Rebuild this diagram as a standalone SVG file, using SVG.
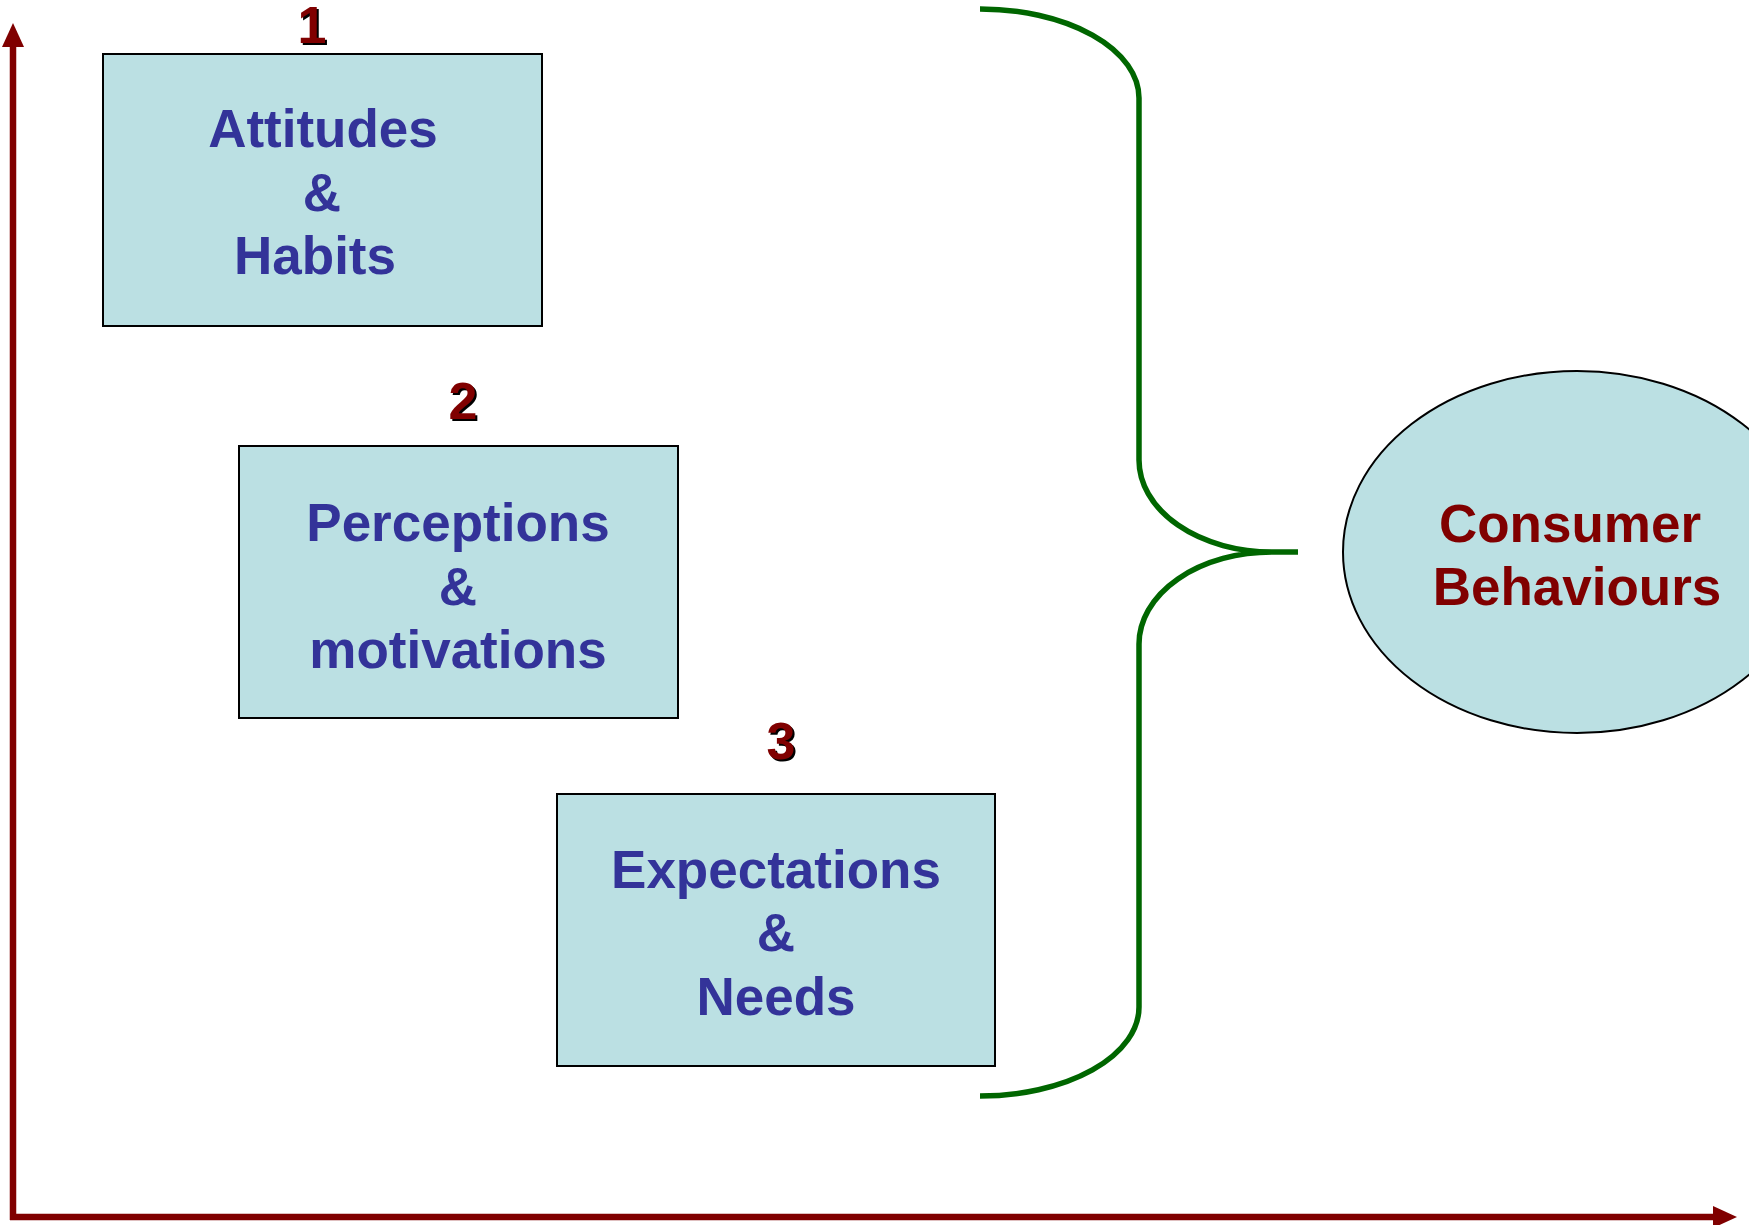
<svg xmlns="http://www.w3.org/2000/svg" width="1749" height="1225" viewBox="0 0 1749 1225">
<style>
.box{fill:#bbe0e3;stroke:#000;stroke-width:2}
.lbl{font-family:"Liberation Sans",Arial,sans-serif;font-weight:bold;font-size:53px;fill:#333399;text-anchor:middle}
.red{fill:#800000}
.num{font-family:"Liberation Sans",Arial,sans-serif;font-weight:bold;font-size:52px;text-anchor:middle}
.axis{stroke:#800000;stroke-width:6.5;fill:none}
.brace{stroke:#006600;stroke-width:5.5;fill:none}
</style>
<defs>
<marker id="ah" viewBox="0 0 24 22" refX="0" refY="11" markerWidth="24" markerHeight="22" markerUnits="userSpaceOnUse" orient="auto">
<path d="M0,0 L24,11 L0,22 z" fill="#800000"/>
</marker>
</defs>
<rect width="1749" height="1225" fill="#fff"/>
<g id="connectors">
<path class="axis" d="M13,1220 L13,47" marker-end="url(#ah)"/>
<path class="axis" d="M10,1217 L1713,1217" marker-end="url(#ah)"/>
<path class="brace" d="M980,9 A159,89 0 0 1 1139,98 L1139,460 A133,92 0 0 0 1272,552 L1298,552 M1272,552 A133,92 0 0 0 1139,644 L1139,1007 A159,89 0 0 1 980,1096"/>
</g>
<g id="num1">
<text class="num" x="314" y="45" fill="#000">1</text>
<text class="num" x="312" y="43" fill="#800000">1</text>
</g>
<g id="num2">
<text class="num" x="465" y="421" fill="#000">2</text>
<text class="num" x="463" y="419" fill="#800000">2</text>
</g>
<g id="num3">
<text class="num" x="783" y="761" fill="#000">3</text>
<text class="num" x="781" y="759" fill="#800000">3</text>
</g>
<g id="box1">
<rect class="box" x="103" y="54" width="439" height="272"/>
<text class="lbl" x="323" y="147">Attitudes</text>
<text class="lbl" x="322" y="211">&amp;</text>
<text class="lbl" x="315" y="274">Habits</text>
</g>
<g id="box2">
<rect class="box" x="239" y="446" width="439" height="272"/>
<text class="lbl" x="458" y="541">Perceptions</text>
<text class="lbl" x="458" y="605">&amp;</text>
<text class="lbl" x="458" y="668">motivations</text>
</g>
<g id="box3">
<rect class="box" x="557" y="794" width="438" height="272"/>
<text class="lbl" x="776" y="888">Expectations</text>
<text class="lbl" x="776" y="951">&amp;</text>
<text class="lbl" x="776" y="1015">Needs</text>
</g>
<g id="consumer">
<ellipse cx="1577" cy="552" rx="234" ry="181" fill="#bbe0e3" stroke="#000" stroke-width="2"/>
<text class="lbl red" x="1570" y="542">Consumer</text>
<text class="lbl red" x="1577" y="605">Behaviours</text>
</g>
</svg>
